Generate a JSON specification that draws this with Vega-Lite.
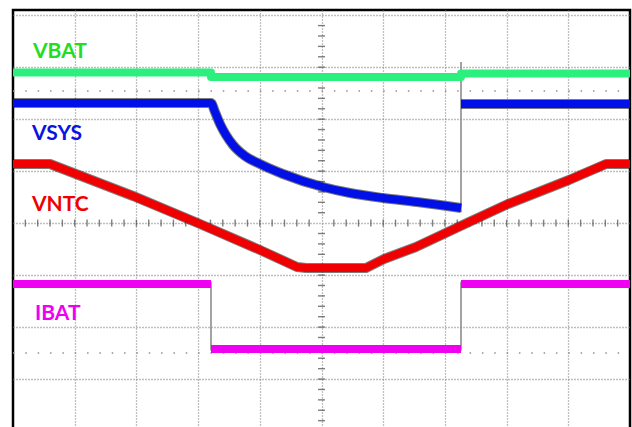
{
  "$schema": "https://vega.github.io/schema/vega-lite/v6.json",
  "width": 617,
  "height": 420,
  "autosize": {"type": "none"},
  "padding": {"left": 13, "top": 10, "right": 2, "bottom": 0},
  "background": "white",
  "config": {
    "view": {"stroke": "#000000", "strokeWidth": 2.5},
    "axis": {"labels": false, "ticks": false, "domain": false, "title": null, "grid": true, "gridDash": [1, 2], "gridColor": "#808080", "gridWidth": 1.3}
  },
  "datasets": {
    "markers": [{"y": 6.54}, {"y": 1.5}],
    "xticks": [{"p":0.2},{"p":0.4},{"p":0.6},{"p":0.8},{"p":1},{"p":1.2},{"p":1.4},{"p":1.6},{"p":1.8},{"p":2},{"p":2.2},{"p":2.4},{"p":2.6},{"p":2.8},{"p":3},{"p":3.2},{"p":3.4},{"p":3.6},{"p":3.8},{"p":4},{"p":4.2},{"p":4.4},{"p":4.6},{"p":4.8},{"p":5.2},{"p":5.4},{"p":5.6},{"p":5.8},{"p":6},{"p":6.2},{"p":6.4},{"p":6.6},{"p":6.8},{"p":7},{"p":7.2},{"p":7.4},{"p":7.6},{"p":7.8},{"p":8},{"p":8.2},{"p":8.4},{"p":8.6},{"p":8.8},{"p":9},{"p":9.2},{"p":9.4},{"p":9.6},{"p":9.8}],
    "yticks": [{"p":0.2},{"p":0.4},{"p":0.6},{"p":0.8},{"p":1},{"p":1.2},{"p":1.4},{"p":1.6},{"p":1.8},{"p":2},{"p":2.2},{"p":2.4},{"p":2.6},{"p":2.8},{"p":3},{"p":3.2},{"p":3.4},{"p":3.6},{"p":3.8},{"p":4.2},{"p":4.4},{"p":4.6},{"p":4.8},{"p":5},{"p":5.2},{"p":5.4},{"p":5.6},{"p":5.8},{"p":6},{"p":6.2},{"p":6.4},{"p":6.6},{"p":6.8},{"p":7},{"p":7.2},{"p":7.4},{"p":7.6},{"p":7.8}],
    "jumps": [
      {"x": 7.261, "y": 4.21, "y2": 7.1},
      {"x": 3.209, "y": 1.55, "y2": 2.87},
      {"x": 7.261, "y": 1.55, "y2": 2.87}
    ],
    "traces": [
      {"s": "VBAT", "g": "VBAT", "t": 0, "v": 6.898},
      {"s": "VBAT", "g": "VBAT", "t": 3.209, "v": 6.898},
      {"s": "VBAT", "g": "VBAT", "t": 3.209, "v": 6.811},
      {"s": "VBAT", "g": "VBAT", "t": 7.261, "v": 6.811},
      {"s": "VBAT", "g": "VBAT", "t": 7.261, "v": 6.878},
      {"s": "VBAT", "g": "VBAT", "t": 10, "v": 6.878},
      {"s": "VSYS", "g": "VSYS1", "t": 0, "v": 6.311},
      {"s": "VSYS", "g": "VSYS1", "t": 3.209, "v": 6.311},
      {"s": "VSYS", "g": "VSYS1", "t": 3.274, "v": 6.138},
      {"s": "VSYS", "g": "VSYS1", "t": 3.355, "v": 5.907},
      {"s": "VSYS", "g": "VSYS1", "t": 3.452, "v": 5.695},
      {"s": "VSYS", "g": "VSYS1", "t": 3.566, "v": 5.503},
      {"s": "VSYS", "g": "VSYS1", "t": 3.760, "v": 5.291},
      {"s": "VSYS", "g": "VSYS1", "t": 4.003, "v": 5.137},
      {"s": "VSYS", "g": "VSYS1", "t": 4.376, "v": 4.945},
      {"s": "VSYS", "g": "VSYS1", "t": 5.024, "v": 4.695},
      {"s": "VSYS", "g": "VSYS1", "t": 5.462, "v": 4.579},
      {"s": "VSYS", "g": "VSYS1", "t": 5.997, "v": 4.483},
      {"s": "VSYS", "g": "VSYS1", "t": 6.548, "v": 4.406},
      {"s": "VSYS", "g": "VSYS1", "t": 6.921, "v": 4.348},
      {"s": "VSYS", "g": "VSYS1", "t": 7.261, "v": 4.291},
      {"s": "VSYS", "g": "VSYS2", "t": 7.261, "v": 6.29},
      {"s": "VSYS", "g": "VSYS2", "t": 10, "v": 6.29},
      {"s": "VNTC", "g": "VNTC", "t": 0, "v": 5.137},
      {"s": "VNTC", "g": "VNTC", "t": 0.6, "v": 5.137},
      {"s": "VNTC", "g": "VNTC", "t": 1.945, "v": 4.522},
      {"s": "VNTC", "g": "VNTC", "t": 3.031, "v": 3.983},
      {"s": "VNTC", "g": "VNTC", "t": 4.003, "v": 3.483},
      {"s": "VNTC", "g": "VNTC", "t": 4.603, "v": 3.156},
      {"s": "VNTC", "g": "VNTC", "t": 4.75, "v": 3.137},
      {"s": "VNTC", "g": "VNTC", "t": 5.721, "v": 3.137},
      {"s": "VNTC", "g": "VNTC", "t": 6.013, "v": 3.31},
      {"s": "VNTC", "g": "VNTC", "t": 6.532, "v": 3.541},
      {"s": "VNTC", "g": "VNTC", "t": 7.391, "v": 4.021},
      {"s": "VNTC", "g": "VNTC", "t": 8.023, "v": 4.368},
      {"s": "VNTC", "g": "VNTC", "t": 9.011, "v": 4.829},
      {"s": "VNTC", "g": "VNTC", "t": 9.611, "v": 5.137},
      {"s": "VNTC", "g": "VNTC", "t": 10, "v": 5.137},
      {"s": "IBAT", "g": "IBAT1", "t": 0, "v": 2.829},
      {"s": "IBAT", "g": "IBAT1", "t": 3.209, "v": 2.829},
      {"s": "IBAT", "g": "IBAT2", "t": 3.209, "v": 1.578},
      {"s": "IBAT", "g": "IBAT2", "t": 7.261, "v": 1.578},
      {"s": "IBAT", "g": "IBAT3", "t": 7.261, "v": 2.829},
      {"s": "IBAT", "g": "IBAT3", "t": 10, "v": 2.829}
    ],
    "labels": [
      {"s": "VBAT", "x": 0.324, "y": 7.177},
      {"s": "VSYS", "x": 0.308, "y": 5.599},
      {"s": "VNTC", "x": 0.308, "y": 4.233},
      {"s": "IBAT", "x": 0.357, "y": 2.136}
    ]
  },
  "layer": [
    {
      "data": {"name": "markers"},
      "mark": {"type": "rule", "color": "#909090", "strokeWidth": 1.5, "strokeDash": [1.5, 10.84]},
      "encoding": {
        "y": {"field": "y", "type": "quantitative", "scale": {"domain": [0.02, 8.1], "nice": false, "zero": false}},
        "x": {"datum": 0, "type": "quantitative", "scale": {"domain": [0, 10], "nice": false, "zero": false}},
        "x2": {"datum": 10}
      }
    },
    {
      "mark": {"type": "rule", "color": "#7a7a7a", "strokeWidth": 1.3},
      "encoding": {"x": {"datum": 5, "type": "quantitative", "scale": {"domain": [0, 10], "nice": false, "zero": false}}}
    },
    {
      "mark": {"type": "rule", "color": "#7a7a7a", "strokeWidth": 1.3},
      "encoding": {"y": {"datum": 4, "type": "quantitative", "scale": {"domain": [0.02, 8.1], "nice": false, "zero": false}}}
    },
    {
      "data": {"name": "xticks"},
      "mark": {"type": "tick", "orient": "vertical", "size": 7, "thickness": 1.4, "color": "#4a4a4a"},
      "encoding": {
        "x": {"field": "p", "type": "quantitative", "scale": {"domain": [0, 10], "nice": false, "zero": false}},
        "y": {"datum": 4, "type": "quantitative", "scale": {"domain": [0.02, 8.1], "nice": false, "zero": false}}
      }
    },
    {
      "data": {"name": "yticks"},
      "mark": {"type": "tick", "orient": "horizontal", "size": 7, "thickness": 1.4, "color": "#4a4a4a"},
      "encoding": {
        "y": {"field": "p", "type": "quantitative", "scale": {"domain": [0.02, 8.1], "nice": false, "zero": false}},
        "x": {"datum": 5, "type": "quantitative", "scale": {"domain": [0, 10], "nice": false, "zero": false}}
      }
    },
    {
      "data": {"name": "jumps"},
      "mark": {"type": "rule", "color": "#8c8c8c", "strokeWidth": 1.6},
      "encoding": {
        "x": {"field": "x", "type": "quantitative", "scale": {"domain": [0, 10], "nice": false, "zero": false}},
        "y": {"field": "y", "type": "quantitative", "scale": {"domain": [0.02, 8.1], "nice": false, "zero": false}},
        "y2": {"field": "y2"}
      }
    },
    {
      "data": {"name": "traces"},
      "transform": [{"filter": "datum.s === 'VNTC'"}],
      "mark": {"type": "line", "strokeWidth": 10, "color": "#101010", "opacity": 0.55, "strokeCap": "butt", "strokeJoin": "round"},
      "encoding": {
        "x": {"field": "t", "type": "quantitative", "scale": {"domain": [0, 10], "nice": false, "zero": false}},
        "y": {"field": "v", "type": "quantitative", "scale": {"domain": [0.02, 8.1], "nice": false, "zero": false}},
        "detail": {"field": "g"},
        "order": {"field": "t"}
      }
    },
    {
      "data": {"name": "traces"},
      "transform": [{"filter": "datum.s === 'VSYS'"}],
      "mark": {"type": "line", "strokeWidth": 10, "color": "#101010", "opacity": 0.55, "strokeCap": "butt", "strokeJoin": "round", "interpolate": "monotone"},
      "encoding": {
        "x": {"field": "t", "type": "quantitative", "scale": {"domain": [0, 10], "nice": false, "zero": false}},
        "y": {"field": "v", "type": "quantitative", "scale": {"domain": [0.02, 8.1], "nice": false, "zero": false}},
        "detail": {"field": "g"},
        "order": {"field": "t"}
      }
    },
    {
      "data": {"name": "traces"},
      "transform": [{"filter": "datum.s !== 'VSYS'"}],
      "mark": {"type": "line", "strokeWidth": 8, "strokeCap": "butt", "strokeJoin": "round"},
      "encoding": {
        "x": {"field": "t", "type": "quantitative", "scale": {"domain": [0, 10], "nice": false, "zero": false}, "axis": {"values": [1, 2, 3, 4, 5, 6, 7, 8, 9]}},
        "y": {"field": "v", "type": "quantitative", "scale": {"domain": [0.02, 8.1], "nice": false, "zero": false}, "axis": {"values": [1, 2, 3, 4, 5, 6, 7, 8]}},
        "color": {"field": "s", "type": "nominal", "scale": {"domain": ["VBAT", "VSYS", "VNTC", "IBAT"], "range": ["#2cf07e", "#0010e6", "#f00000", "#f000f0"]}, "legend": null},
        "detail": {"field": "g"},
        "order": {"field": "t"}
      }
    },
    {
      "data": {"name": "traces"},
      "transform": [{"filter": "datum.s === 'VSYS'"}],
      "mark": {"type": "line", "strokeWidth": 8, "color": "#0010e6", "strokeCap": "butt", "strokeJoin": "round", "interpolate": "monotone"},
      "encoding": {
        "x": {"field": "t", "type": "quantitative", "scale": {"domain": [0, 10], "nice": false, "zero": false}},
        "y": {"field": "v", "type": "quantitative", "scale": {"domain": [0.02, 8.1], "nice": false, "zero": false}},
        "detail": {"field": "g"},
        "order": {"field": "t"}
      }
    },
    {
      "data": {"name": "labels"},
      "mark": {"type": "text", "font": "Lato", "fontWeight": "bold", "fontSize": 21, "align": "left", "baseline": "alphabetic"},
      "encoding": {
        "x": {"field": "x", "type": "quantitative", "scale": {"domain": [0, 10], "nice": false, "zero": false}},
        "y": {"field": "y", "type": "quantitative", "scale": {"domain": [0.02, 8.1], "nice": false, "zero": false}},
        "text": {"field": "s"},
        "color": {"field": "s", "type": "nominal", "scale": {"domain": ["VBAT", "VSYS", "VNTC", "IBAT"], "range": ["#22dd22", "#0a14e0", "#f00000", "#f000f0"]}, "legend": null}
      }
    }
  ],
  "resolve": {"scale": {"color": "independent"}}
}
